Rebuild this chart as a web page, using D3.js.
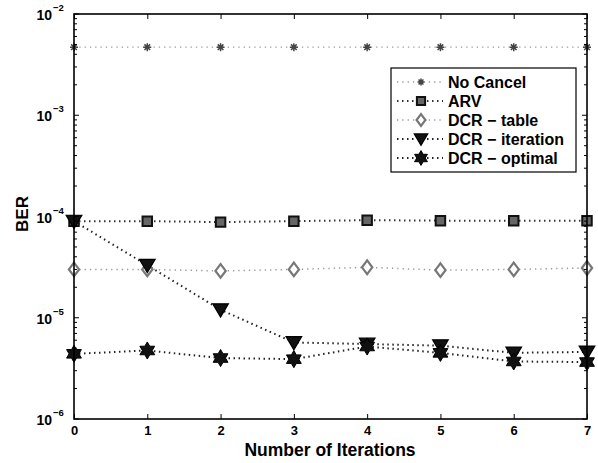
<!DOCTYPE html>
<html><head><meta charset="utf-8">
<script src="https://cdn.jsdelivr.net/npm/d3@7"></script>
<style>body{margin:0;background:#fff}svg{display:block}text{font-family:"Liberation Sans",Arial,sans-serif}</style>
</head><body><svg id="c" width="598" height="463"></svg>
<script>
const iterations = [0,1,2,3,4,5,6,7];
const noCancel  = [4.7e-3,4.7e-3,4.7e-3,4.7e-3,4.7e-3,4.7e-3,4.7e-3,4.7e-3];
const arv       = [9.0e-5,9.0e-5,8.8e-5,9.0e-5,9.2e-5,9.1e-5,9.1e-5,9.1e-5];
const dcrTable  = [3.0e-5,3.0e-5,2.9e-5,3.0e-5,3.15e-5,2.95e-5,3.0e-5,3.1e-5];
const dcrIter   = [9.0e-5,3.3e-5,1.2e-5,5.7e-6,5.5e-6,5.3e-6,4.5e-6,4.6e-6];
const dcrOpt    = [4.4e-6,4.75e-6,4.0e-6,3.9e-6,5.2e-6,4.5e-6,3.7e-6,3.65e-6];
const seriesNames = ["No Cancel","ARV","DCR \u2212 table","DCR \u2212 iteration","DCR \u2212 optimal"];
const yTickExps = [-2,-3,-4,-5,-6];

const svg = d3.select("#c");
const L=74,R=587,T=14,B=419;
const x = d3.scaleLinear().domain([0,7]).range([L,R]);
const y = d3.scaleLog().domain([1e-6,1e-2]).range([B,T]);

// custom symbols
const hexagram = {draw(ctx,size){const r=Math.sqrt(size)*0.62, ri=r/Math.sqrt(3);
  for(let i=0;i<12;i++){const a=-Math.PI/2+i*Math.PI/6, rr=i%2?ri:r; const px=rr*Math.cos(a), py=rr*Math.sin(a); i?ctx.lineTo(px,py):ctx.moveTo(px,py);} ctx.closePath();}};
const triDown = {draw(ctx,size){const r=Math.sqrt(size)*0.6; ctx.moveTo(-r,-r*0.75); ctx.lineTo(r,-r*0.75); ctx.lineTo(0,r*0.95); ctx.closePath();}};
const diamond = {draw(ctx,size){const w=Math.sqrt(size)*0.45,h=Math.sqrt(size)*0.6; ctx.moveTo(0,-h); ctx.lineTo(w,0); ctx.lineTo(0,h); ctx.lineTo(-w,0); ctx.closePath();}};
const square = {draw(ctx,size){const s=Math.sqrt(size)/2; ctx.rect(-s,-s,2*s,2*s);}};
const asterisk = {draw(ctx,size){const r=Math.sqrt(size)/2; for(let i=0;i<4;i++){const a=i*Math.PI/4; ctx.moveTo(-r*Math.cos(a),-r*Math.sin(a)); ctx.lineTo(r*Math.cos(a),r*Math.sin(a));}}};

const series = [
 {name:seriesNames[0], vals:noCancel, sym:asterisk, size:64, lc:"#999", lw:1.3, dash:"1.3,4", mf:"none", ms:"#444", msw:1.5},
 {name:seriesNames[1], vals:arv, sym:square, size:90, lc:"#333", lw:2, dash:"1.5,3.5", mf:"#666", ms:"#111", msw:2},
 {name:seriesNames[2], vals:dcrTable, sym:diamond, size:130, lc:"#999", lw:1.5, dash:"1.3,4", mf:"#fff", ms:"#777", msw:2.2},
 {name:seriesNames[3], vals:dcrIter, sym:triDown, size:170, lc:"#222", lw:2, dash:"1.5,3.5", mf:"#111", ms:"#000", msw:1.2},
 {name:seriesNames[4], vals:dcrOpt, sym:hexagram, size:190, lc:"#222", lw:2, dash:"1.5,3.5", mf:"#111", ms:"#000", msw:1}
];

const line = d3.line().x((d,i)=>x(iterations[i])).y(d=>y(d));
series.forEach(s=>{
  svg.append("path").attr("d",line(s.vals)).attr("fill","none").attr("stroke",s.lc)
    .attr("stroke-width",s.lw).attr("stroke-dasharray",s.dash);
});
series.forEach(s=>{
  svg.append("g").selectAll("path").data(s.vals).join("path")
    .attr("transform",(d,i)=>`translate(${x(iterations[i])},${y(d)})`)
    .attr("d",d3.symbol(s.sym,s.size)()).attr("fill",s.mf).attr("stroke",s.ms).attr("stroke-width",s.msw);
});

// axes box
const ax = svg.append("g");
ax.append("rect").attr("x",L).attr("y",T).attr("width",R-L).attr("height",B-T).attr("fill","none").attr("stroke","#000").attr("stroke-width",1.6);
// x ticks
const xb = d3.axisBottom(x).tickValues(iterations).tickSize(-5).tickPadding(7).tickFormat(d3.format("d"));
const xg = svg.append("g").attr("transform",`translate(0,${B})`).call(xb);
xg.select(".domain").remove();
xg.selectAll("line").attr("stroke","#000");
xg.selectAll("text").attr("font-size",13).attr("font-weight","bold").attr("fill","#000");
const xt = d3.axisTop(x).tickValues(iterations).tickSize(-5).tickFormat("");
const xtg = svg.append("g").attr("transform",`translate(0,${T})`).call(xt);
xtg.select(".domain").remove();
// y ticks (major + minor)
const minor = [];
for(let e=-6;e<-2;e++) for(let k=2;k<=9;k++) minor.push(k*Math.pow(10,e));
[[L,1],[R,-1]].forEach(([px,dir])=>{
  const g=svg.append("g");
  g.selectAll("line.mj").data(yTickExps).join("line").attr("x1",px).attr("x2",px+dir*5)
   .attr("y1",d=>y(Math.pow(10,d))).attr("y2",d=>y(Math.pow(10,d))).attr("stroke","#000");
  g.selectAll("line.mn").data(minor).join("line").attr("x1",px).attr("x2",px+dir*3)
   .attr("y1",d=>y(d)).attr("y2",d=>y(d)).attr("stroke","#000");
});
const yl = svg.append("g");
yTickExps.forEach(e=>{
  yl.append("text").attr("x",L-22).attr("y",y(Math.pow(10,e))+6).attr("text-anchor","end")
    .attr("font-size",14).attr("font-weight","bold").text("10");
  yl.append("text").attr("x",L-21).attr("y",y(Math.pow(10,e))-3).attr("font-size",9.5).attr("font-weight","bold").text("\u2212"+(-e));
});
// titles
svg.append("text").attr("x",(L+R)/2-0.5).attr("y",456).attr("text-anchor","middle").attr("font-size",17.5).attr("font-weight","bold").text("Number of Iterations");
svg.append("text").attr("transform","translate(28,214) rotate(-90)").attr("text-anchor","middle").attr("font-size",17).attr("font-weight","bold").text("BER");

// legend
const lgX=391, lgY=68, lgW=185, lgH=104, rowH=19;
const lg = svg.append("g");
lg.append("rect").attr("x",lgX).attr("y",lgY).attr("width",lgW).attr("height",lgH).attr("fill","#fff").attr("stroke","#000").attr("stroke-width",1.2);
series.forEach((s,i)=>{
  const cy = lgY+14+i*rowH;
  lg.append("line").attr("x1",lgX+6).attr("x2",lgX+52).attr("y1",cy).attr("y2",cy).attr("stroke",s.lc).attr("stroke-width",s.lw).attr("stroke-dasharray",s.dash);
  lg.append("path").attr("transform",`translate(${lgX+30},${cy})`).attr("d",d3.symbol(s.sym,s.size*0.75)()).attr("fill",s.mf).attr("stroke",s.ms).attr("stroke-width",s.msw);
  lg.append("text").attr("x",lgX+57).attr("y",cy+5.5).attr("font-size",16).attr("font-weight","bold").text(s.name);
});
</script></body></html>
